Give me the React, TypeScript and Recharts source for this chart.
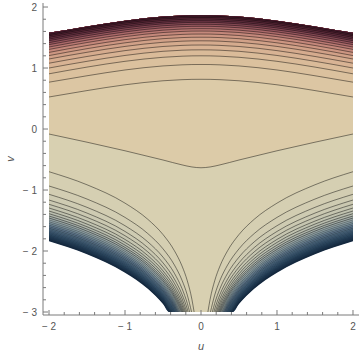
import React from 'react';
import { ComposedChart, Area, Line, XAxis, YAxis } from 'recharts';

// ---------- axes ----------
const U_DOMAIN: [number, number] = [-2.079, 2.079];
const V_DOMAIN: [number, number] = [-3.049, 2.066];
const X_TICKS = [-2, -1.8, -1.6, -1.4, -1.2, -1, -0.8, -0.6, -0.4, -0.2, 0, 0.2, 0.4, 0.6, 0.8, 1, 1.2, 1.4, 1.6, 1.8, 2];
const Y_TICKS = [-3, -2.8, -2.6, -2.4, -2.2, -2, -1.8, -1.6, -1.4, -1.2, -1, -0.8, -0.6, -0.4, -0.2, 0, 0.2, 0.4, 0.6, 0.8, 1, 1.2, 1.4, 1.6, 1.8, 2];
const X_LABEL = 'u';
const Y_LABEL = 'v';

// ---------- upper part (symmetric in u; values given for u >= 0) ----------
const TOP_HALF_U = [0, 0.12, 0.25, 0.5, 1, 1.5, 2];
const MIDDLE_CONTOUR = [-0.635, -0.622, -0.588, -0.508, -0.357, -0.216, -0.082];
const TOP_BOUNDARY = [1.867, 1.866, 1.861, 1.843, 1.777, 1.682, 1.577];
const TOP_CONTOURS = [
  [0.815, 0.814, 0.809, 0.791, 0.725, 0.63, 0.525],
  [1.058, 1.057, 1.052, 1.034, 0.968, 0.873, 0.768],
  [1.2, 1.199, 1.194, 1.176, 1.11, 1.015, 0.905],
  [1.298, 1.297, 1.292, 1.274, 1.206, 1.11, 1.0],
  [1.377, 1.376, 1.371, 1.353, 1.285, 1.189, 1.079],
  [1.446, 1.445, 1.44, 1.422, 1.354, 1.258, 1.148],
  [1.505, 1.504, 1.499, 1.481, 1.413, 1.317, 1.204],
  [1.557, 1.556, 1.551, 1.533, 1.465, 1.369, 1.256],
  [1.606, 1.605, 1.6, 1.582, 1.514, 1.418, 1.305],
  [1.645, 1.644, 1.639, 1.621, 1.553, 1.457, 1.344],
  [1.684, 1.683, 1.678, 1.66, 1.592, 1.496, 1.383],
  [1.717, 1.716, 1.711, 1.693, 1.625, 1.529, 1.416],
  [1.749, 1.748, 1.743, 1.725, 1.657, 1.561, 1.448],
  [1.776, 1.775, 1.77, 1.752, 1.684, 1.588, 1.475],
  [1.803, 1.802, 1.797, 1.779, 1.711, 1.615, 1.502],
  [1.829, 1.828, 1.823, 1.805, 1.737, 1.641, 1.528],
  [1.851, 1.85, 1.845, 1.827, 1.759, 1.663, 1.55],
];

// ---------- lower part (symmetric; values at |u| samples, until v reaches -3) ----------
const BOTTOM_HALF_U = [2, 1.5, 1, 0.7, 0.5, 0.35, 0.25, 0.18, 0.12];
const BOTTOM_CONTOURS = [
  [-0.7, -0.914, -1.215, -1.48, -1.73, -1.995, -2.245, -2.489, -2.79],
  [-0.934, -1.148, -1.449, -1.714, -1.964, -2.229, -2.479, -2.723],
  [-1.07, -1.284, -1.585, -1.85, -2.1, -2.365, -2.615, -2.859],
  [-1.164, -1.378, -1.679, -1.944, -2.194, -2.459, -2.709, -2.953],
  [-1.234, -1.448, -1.749, -2.014, -2.264, -2.529, -2.779],
  [-1.295, -1.509, -1.81, -2.075, -2.325, -2.59, -2.84],
  [-1.344, -1.558, -1.859, -2.124, -2.374, -2.639, -2.889],
  [-1.388, -1.602, -1.903, -2.168, -2.418, -2.683, -2.933],
  [-1.426, -1.64, -1.941, -2.206, -2.456, -2.721, -2.971],
  [-1.459, -1.673, -1.974, -2.239, -2.489, -2.754],
  [-1.49, -1.704, -2.005, -2.27, -2.52, -2.785],
  [-1.52, -1.734, -2.035, -2.3, -2.55, -2.815],
  [-1.548, -1.762, -2.063, -2.328, -2.578, -2.843],
  [-1.575, -1.789, -2.09, -2.355, -2.605, -2.87],
  [-1.6, -1.814, -2.115, -2.38, -2.63, -2.895],
  [-1.625, -1.839, -2.14, -2.405, -2.655, -2.92],
  [-1.648, -1.862, -2.163, -2.428, -2.678, -2.943],
  [-1.67, -1.884, -2.185, -2.45, -2.7, -2.965],
  [-1.692, -1.906, -2.207, -2.472, -2.722, -2.987],
  [-1.713, -1.927, -2.228, -2.493, -2.743],
  [-1.734, -1.948, -2.249, -2.514, -2.764],
  [-1.754, -1.968, -2.269, -2.534, -2.784],
  [-1.773, -1.987, -2.288, -2.553, -2.803],
  [-1.792, -2.006, -2.307, -2.572, -2.822],
  [-1.81, -2.024, -2.325, -2.59, -2.84],
  [-1.826, -2.04, -2.341, -2.606, -2.856],
];
const BOTTOM_END_U = [
  0.0905, 0.124, 0.149, 0.169, 0.186, 0.2016, 0.2153, 0.2284, 0.2404, 0.2514, 0.2621, 0.2729, 0.2834,
  0.2938, 0.3039, 0.3143, 0.3242, 0.3339, 0.344, 0.3538, 0.364, 0.3739, 0.3836, 0.3935, 0.4032, 0.4119,
];
const BOTTOM_BOUNDARY = [-1.84, -2.054, -2.355, -2.62, -2.87];
const BOTTOM_BOUNDARY_END_U = 0.4197;
const V_FLOOR = -3;

// ---------- styles ----------
const FRAME = '#7a7a7a';
const TEXT = '#555555';
const FONT = '"Liberation Sans", Arial, sans-serif';
const PALETTE_STOPS: [number, string][] = [
  [0, '#19304a'], [2, '#1f3a55'], [4, '#274460'], [6, '#32516c'], [8, '#3f5d77'],
  [10, '#506d84'], [12, '#678198'], [14, '#8096a0'], [16, '#9ba9a9'], [18, '#b1b7ac'],
  [20, '#c0c2af'], [22, '#cac8b1'], [24, '#d2cdb2'], [26, '#d8d0b1'], [27, '#dccba8'],
  [28, '#dcc6a3'], [30, '#dabb99'], [32, '#d5ab8e'], [34, '#cd9682'], [36, '#bb7a74'],
  [38, '#9a5860'], [40, '#74394a'], [42, '#5a2637'], [44, '#4a1c2e'],
];

function hexToRgb(h: string) {
  return [parseInt(h.slice(1, 3), 16), parseInt(h.slice(3, 5), 16), parseInt(h.slice(5, 7), 16)];
}
function bandColor(i: number) {
  for (let s = 0; s < PALETTE_STOPS.length - 1; s++) {
    const [a, ca] = PALETTE_STOPS[s];
    const [b, cb] = PALETTE_STOPS[s + 1];
    if (i >= a && i <= b) {
      const t = b === a ? 0 : (i - a) / (b - a);
      const x = hexToRgb(ca), y = hexToRgb(cb);
      const c = x.map((v, k) => Math.round(v + (y[k] - v) * t));
      return `rgb(${c[0]},${c[1]},${c[2]})`;
    }
  }
  return PALETTE_STOPS[PALETTE_STOPS.length - 1][1];
}

// ---------- tables ----------
function makeTopRow(u: number, i: number) {
  const row: any = { u, mid: MIDDLE_CONTOUR[i], midR: [MIDDLE_CONTOUR[i], TOP_BOUNDARY[i]] };
  TOP_CONTOURS.forEach((c, k) => {
    row['t' + k] = c[i];
    row['r' + k] = [c[i], TOP_BOUNDARY[i]];
  });
  return row;
}
const topRows: any[] = [];
for (let i = TOP_HALF_U.length - 1; i >= 1; i--) topRows.push(makeTopRow(-TOP_HALF_U[i], i));
for (let i = 0; i < TOP_HALF_U.length; i++) topRows.push(makeTopRow(TOP_HALF_U[i], i));

function branches(vals: number[], end: number) {
  const left = vals.map((v, i) => ({ u: -BOTTOM_HALF_U[i], v }));
  left.push({ u: -end, v: V_FLOOR });
  const right = [{ u: end, v: V_FLOOR }];
  for (let i = vals.length - 1; i >= 0; i--) right.push({ u: BOTTOM_HALF_U[i], v: vals[i] });
  return { left, right };
}
function bandData(vals: number[], end: number) {
  const { left, right } = branches(vals, end);
  return [...left, ...right].map((p) => ({ u: p.u, r: [p.v, 0] }));
}

const bottomLayers = [
  { data: bandData(BOTTOM_BOUNDARY, BOTTOM_BOUNDARY_END_U), color: bandColor(0) },
];
for (let k = BOTTOM_CONTOURS.length; k >= 1; k--) {
  bottomLayers.push({ data: bandData(BOTTOM_CONTOURS[k - 1], BOTTOM_END_U[k - 1]), color: bandColor(27 - k) });
}
const bottomLines = BOTTOM_CONTOURS.map((c, k) => branches(c, BOTTOM_END_U[k]));
const bottomLineOpacity = (k: number) => (k < 10 ? 0.45 : k < 16 ? 0.3 : 0.2);

// ---------- ticks ----------
const isMajor = (v: number) => Math.abs(v - Math.round(v)) < 1e-6;
const fmt = (v: number) => (v < 0 ? '\u2212 ' + Math.abs(Math.round(v)) : String(Math.round(v)));

const BottomTick = (p: any) => {
  const { x, y, payload } = p;
  const major = isMajor(payload.value);
  return (
    <g>
      <line x1={x} x2={x} y1={y} y2={y - (major ? 5 : 3)} stroke={FRAME} strokeWidth={1} />
      {major && (
        <text x={x} y={y + 15} textAnchor="middle" fontSize={10} fill={TEXT} fontFamily={FONT}>
          {fmt(payload.value)}
        </text>
      )}
    </g>
  );
};
const TopTick = (p: any) => {
  const { x, y, payload } = p;
  const major = isMajor(payload.value);
  return <line x1={x} x2={x} y1={y} y2={y + (major ? 5 : 3)} stroke={FRAME} strokeWidth={1} />;
};
const LeftTick = (p: any) => {
  const { x, y, payload } = p;
  const major = isMajor(payload.value);
  return (
    <g>
      <line x1={x} x2={x + (major ? 5 : 3)} y1={y} y2={y} stroke={FRAME} strokeWidth={1} />
      {major && (
        <text x={x - 6} y={y + 3.5} textAnchor="end" fontSize={10} fill={TEXT} fontFamily={FONT}>
          {fmt(payload.value)}
        </text>
      )}
    </g>
  );
};
const RightTick = (p: any) => {
  const { x, y, payload } = p;
  const major = isMajor(payload.value);
  return <line x1={x} x2={x - (major ? 5 : 3)} y1={y} y2={y} stroke={FRAME} strokeWidth={1} />;
};

const ULabel = (p: any) => {
  const vb = p.viewBox || { x: 0, y: 0, width: 0, height: 0 };
  return (
    <text x={vb.x + vb.width / 2} y={vb.y + 35} textAnchor="middle" fontSize={11} fontStyle="italic" fill={TEXT} fontFamily={FONT}>
      {X_LABEL}
    </text>
  );
};
const VLabel = (p: any) => {
  const vb = p.viewBox || { x: 0, y: 0, width: 0, height: 0 };
  const cx = vb.x + 10;
  const cy = vb.y + vb.height / 2;
  return (
    <text x={cx} y={cy} transform={`rotate(-90 ${cx} ${cy})`} textAnchor="middle" dominantBaseline="central" fontSize={11} fontStyle="italic" fill={TEXT} fontFamily={FONT}>
      {Y_LABEL}
    </text>
  );
};

const lineProps = {
  type: 'monotone' as const,
  stroke: '#000',
  strokeOpacity: 0.45,
  strokeWidth: 1,
  dot: false,
  activeDot: false,
  isAnimationActive: false,
};
const areaProps = {
  type: 'monotone' as const,
  stroke: 'none',
  fillOpacity: 1,
  dot: false,
  activeDot: false,
  isAnimationActive: false,
};

export default function App() {
  return (
    <div style={{ position: 'absolute', left: 0, top: 0, background: '#fff' }}>
      <ComposedChart width={360} height={356} margin={{ top: 3, right: 1, bottom: 0, left: 0 }}>
        <XAxis
          dataKey="u"
          type="number"
          domain={U_DOMAIN}
          allowDataOverflow
          ticks={X_TICKS}
          interval={0}
          height={41}
          tickSize={0}
          tickMargin={0}
          tickLine={false}
          axisLine={{ stroke: FRAME }}
          tick={<BottomTick />}
          label={<ULabel />}
        />
        <XAxis
          xAxisId="top"
          orientation="top"
          dataKey="u"
          type="number"
          domain={U_DOMAIN}
          allowDataOverflow
          ticks={X_TICKS}
          interval={0}
          height={0}
          tickSize={0}
          tickMargin={0}
          tickLine={false}
          axisLine={{ stroke: FRAME }}
          tick={<TopTick />}
        />
        <YAxis
          type="number"
          domain={V_DOMAIN}
          allowDataOverflow
          ticks={Y_TICKS}
          interval={0}
          width={43}
          tickSize={0}
          tickMargin={0}
          tickLine={false}
          axisLine={{ stroke: FRAME }}
          tick={<LeftTick />}
          label={<VLabel />}
        />
        <YAxis
          yAxisId="right"
          orientation="right"
          type="number"
          domain={V_DOMAIN}
          allowDataOverflow
          ticks={Y_TICKS}
          interval={0}
          width={0}
          tickSize={0}
          tickMargin={0}
          tickLine={false}
          axisLine={{ stroke: FRAME }}
          tick={<RightTick />}
        />

        {bottomLayers.map((l, i) => (
          <Area key={'ba' + i} data={l.data} dataKey="r" fill={l.color} {...areaProps} />
        ))}
        <Area key="ma" data={topRows} dataKey="midR" fill={bandColor(27)} {...areaProps} />
        {TOP_CONTOURS.map((_, k) => (
          <Area key={'ta' + k} data={topRows} dataKey={'r' + k} fill={bandColor(28 + k)} {...areaProps} />
        ))}

        {bottomLines.map((b, k) => (
          <Line key={'bl' + k} data={b.left} dataKey="v" {...lineProps} strokeOpacity={bottomLineOpacity(k)} />
        ))}
        {bottomLines.map((b, k) => (
          <Line key={'br' + k} data={b.right} dataKey="v" {...lineProps} strokeOpacity={bottomLineOpacity(k)} />
        ))}
        <Line key="ml" data={topRows} dataKey="mid" {...lineProps} />
        {TOP_CONTOURS.map((_, k) => (
          <Line key={'tl' + k} data={topRows} dataKey={'t' + k} {...lineProps} />
        ))}
      </ComposedChart>
    </div>
  );
}
